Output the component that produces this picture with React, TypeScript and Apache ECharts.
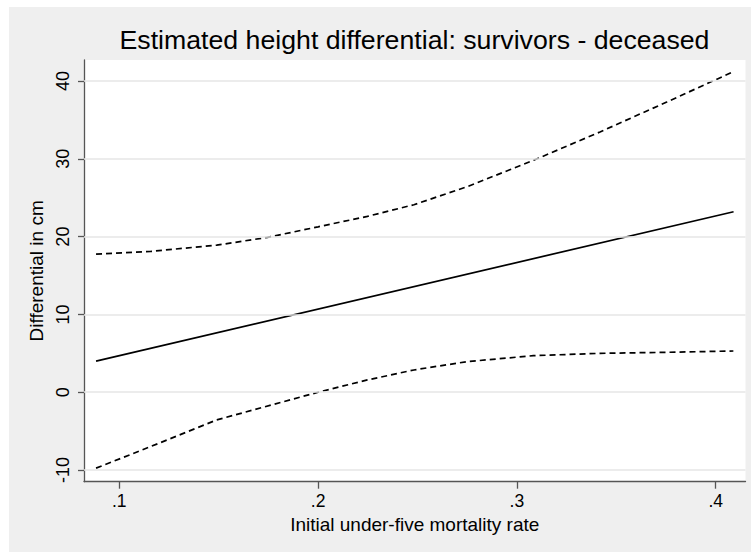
import React, { useEffect, useRef } from "react";
import * as echarts from "echarts";

const titleText = "Estimated height differential: survivors - deceased";
const xName = "Initial under-five mortality rate";
const yName = "Differential in cm";

const xTicks = [0.1, 0.2, 0.3, 0.4];
const yTicks = [-10, 0, 10, 20, 30, 40];

const fitX = [0.0883, 0.409];
const fitY = [4.0, 23.2];

const upperX = [0.0883, 0.1158, 0.149, 0.1745, 0.2, 0.2248, 0.2482, 0.2748, 0.3083, 0.3418, 0.3754, 0.4089];
const upperY = [17.75, 18.1, 18.9, 19.9, 21.26, 22.6, 24.1, 26.4, 29.8, 33.45, 37.3, 41.2];

const lowerX = [0.0883, 0.1158, 0.149, 0.1828, 0.2, 0.2248, 0.2482, 0.2748, 0.3083, 0.3418, 0.3754, 0.4089];
const lowerY = [-9.76, -6.98, -3.56, -1.2, 0.0, 1.58, 2.86, 3.93, 4.7, 5.0, 5.13, 5.3];

const zip = (xs: number[], ys: number[]) => xs.map((x, i) => [x, ys[i]]);

export default function App() {
  const ref = useRef<HTMLDivElement>(null);
  useEffect(() => {
    if (!ref.current) return;
    const chart = echarts.init(ref.current, null, { renderer: "svg" });
    const font = "'Liberation Sans', Arial, sans-serif";
    const axisColor = "#555555";
    chart.setOption({
      animation: false,
      backgroundColor: "#ffffff",
      textStyle: { fontFamily: font },
      graphic: [
        {
          type: "rect",
          z: -10,
          silent: true,
          shape: { x: 9, y: 7, width: 742, height: 545 },
          style: { fill: "#efefef" },
        },
      ],
      title: {
        text: titleText,
        left: 409.5,
        top: 21,
        textAlign: "center",
        textStyle: { fontFamily: font, fontSize: 26.7, fontWeight: "normal", color: "#000" },
      },
      grid: {
        left: 84,
        right: 5.5,
        top: 60,
        bottom: 70.3,
        show: true,
        backgroundColor: "#ffffff",
        borderWidth: 0,
        containLabel: false,
      },
      xAxis: {
        type: "value",
        min: 0.08224,
        max: 0.415,
        name: xName,
        nameLocation: "middle",
        nameGap: 25,
        nameTextStyle: { fontFamily: font, fontSize: 19, color: "#000", verticalAlign: "top" },
        axisLine: { show: true, onZero: false, lineStyle: { color: axisColor, width: 1.3 } },
        axisTick: { show: true, length: 7, customValues: xTicks, lineStyle: { color: axisColor, width: 1.3 } },
        axisLabel: {
          show: true,
          customValues: xTicks,
          margin: 10,
          fontFamily: font,
          fontSize: 17.5,
          color: "#000",
          formatter: (v: number) => {
            const s = v.toFixed(1);
            return s.startsWith("0") ? s.slice(1) : s;
          },
        },
        splitLine: { show: false },
      },
      yAxis: {
        type: "value",
        min: -11.5,
        max: 42.7,
        name: yName,
        nameLocation: "middle",
        nameRotate: 90,
        nameGap: 36,
        nameTextStyle: { fontFamily: font, fontSize: 19, color: "#000" },
        axisLine: { show: true, onZero: false, lineStyle: { color: axisColor, width: 1.3 } },
        axisTick: { show: true, length: 6, customValues: yTicks, lineStyle: { color: axisColor, width: 1.3 } },
        axisLabel: {
          show: true,
          customValues: yTicks,
          rotate: 90,
          margin: 12,
          fontFamily: font,
          fontSize: 18,
          color: "#000",
        },
        splitLine: { show: false },
      },
      series: [
        {
          type: "line",
          name: "grid",
          data: [],
          silent: true,
          z: 1,
          markLine: {
            silent: true,
            symbol: "none",
            label: { show: false },
            lineStyle: { color: "#e6e6e6", width: 1.5, type: "solid" },
            data: yTicks.map((v) => ({ yAxis: v })),
          },
        },
        {
          type: "line",
          name: "upper",
          data: zip(upperX, upperY),
          showSymbol: false,
          symbol: "none",
          z: 3,
          lineStyle: { color: "#000", width: 1.7, type: [6, 4] },
        },
        {
          type: "line",
          name: "lower",
          data: zip(lowerX, lowerY),
          showSymbol: false,
          symbol: "none",
          z: 3,
          lineStyle: { color: "#000", width: 1.7, type: [6, 4] },
        },
        {
          type: "line",
          name: "fit",
          data: zip(fitX, fitY),
          showSymbol: false,
          symbol: "none",
          z: 3,
          lineStyle: { color: "#000", width: 1.7, type: "solid" },
        },
      ],
    });
    return () => chart.dispose();
  }, []);
  return (
    <div
      ref={ref}
      style={{ position: "absolute", left: 0, top: 0, width: 751, height: 552 }}
    />
  );
}
